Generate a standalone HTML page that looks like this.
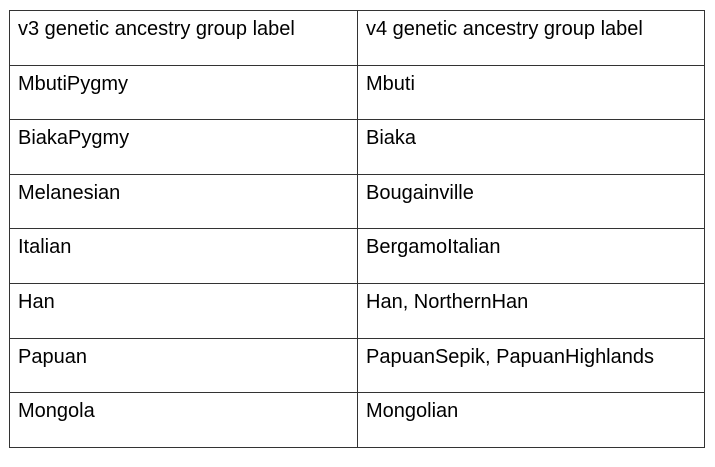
<!DOCTYPE html>
<html><head><style>
body{margin:0;width:715px;height:467px;background:#fff;position:relative;font-family:"Liberation Sans",sans-serif;overflow:hidden}
table{position:absolute;left:9px;top:10px;border-collapse:collapse;width:696px;height:437px;table-layout:fixed}
tr{height:54.6px}
td{border:1px solid #333;vertical-align:top;padding:7px 0 0 8px;font-size:20px;color:#000;line-height:22px;box-sizing:border-box;white-space:nowrap}
td.c1{width:348px}
</style></head><body>
<table>
<tr><td class="c1">v3 genetic ancestry group label</td><td>v4 genetic ancestry group label</td></tr>
<tr><td class="c1">MbutiPygmy</td><td>Mbuti</td></tr>
<tr><td class="c1">BiakaPygmy</td><td>Biaka</td></tr>
<tr><td class="c1">Melanesian</td><td>Bougainville</td></tr>
<tr><td class="c1">Italian</td><td>BergamoItalian</td></tr>
<tr><td class="c1">Han</td><td>Han, NorthernHan</td></tr>
<tr><td class="c1">Papuan</td><td>PapuanSepik, PapuanHighlands</td></tr>
<tr><td class="c1">Mongola</td><td>Mongolian</td></tr>
</table>
</body></html>
